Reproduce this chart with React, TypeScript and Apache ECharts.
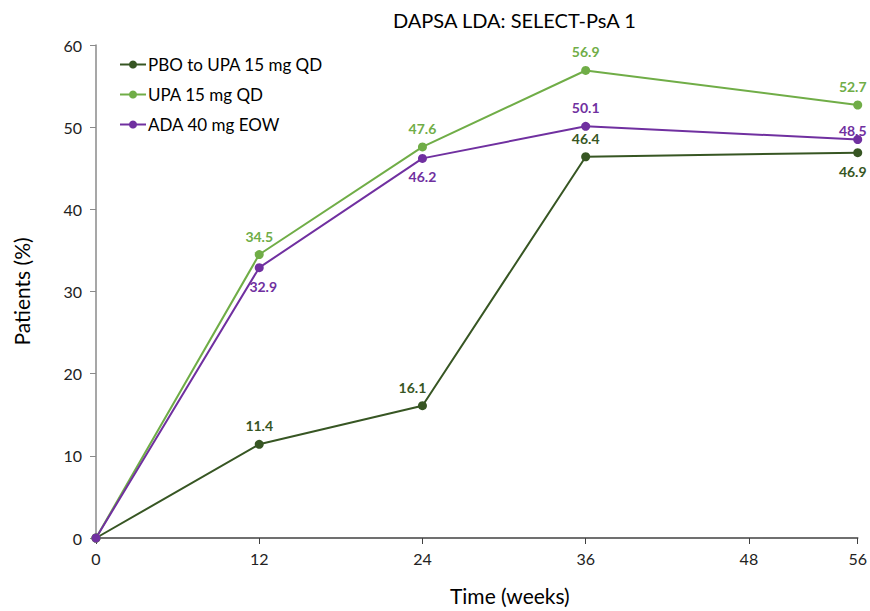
import React, { useEffect, useRef } from "react";
import * as echarts from "echarts";

const titleText = "DAPSA LDA: SELECT-PsA 1";
const weeks = [0, 12, 24, 36, 56];
const seriesNames = ["PBO to UPA 15 mg QD", "UPA 15 mg QD", "ADA 40 mg EOW"];
const pbo = [0, 11.4, 16.1, 46.4, 46.9];
const upa = [0, 34.5, 47.6, 56.9, 52.7];
const ada = [0, 32.9, 46.2, 50.1, 48.5];

const FONT = "Lato, 'Open Sans', sans-serif";
const colors = ["#375623", "#70AD47", "#7030A0"];

// label placement per point (style only)
const pboLabel: any[] = [null, { position: "top" }, { position: "top", offset: [-10, 0] }, { position: "top" }, { position: "bottom", offset: [-5, 0] }];
const upaLabel: any[] = [null, { position: "top" }, { position: "top" }, { position: "top" }, { position: "top", offset: [-5, 0] }];
const adaLabel: any[] = [null, { position: "bottom", offset: [4, 0] }, { position: "bottom" }, { position: "top" }, { position: "top", offset: [-5, 10] }];

function build(values: number[], labels: any[], color: string) {
  return values.map((v, i) => ({
    value: [weeks[i], v],
    label: labels[i]
      ? { show: true, ...labels[i], color, fontWeight: "bold", fontSize: 14, fontFamily: FONT, distance: 7 }
      : { show: false },
  }));
}

export default function App() {
  const ref = useRef<HTMLDivElement>(null);
  useEffect(() => {
    if (!ref.current) return;
    const chart = echarts.init(ref.current, undefined, { renderer: "svg" });
    const mk = (name: string, values: number[], labels: any[], color: string) => ({
      name,
      type: "line",
      data: build(values, labels, color),
      symbol: "circle",
      symbolSize: 9,
      lineStyle: { color, width: 2 },
      itemStyle: { color },
      clip: false,
    });
    chart.setOption({
      animation: false,
      backgroundColor: "#ffffff",
      title: {
        text: titleText,
        left: 388,
        top: 5,
        textStyle: { fontFamily: FONT, fontSize: 20, fontWeight: "normal", color: "#000" },
      },
      legend: {
        orient: "vertical",
        left: 114,
        top: 50,
        itemWidth: 26,
        itemHeight: 10,
        itemGap: 11,
        data: seriesNames,
        textStyle: { fontFamily: FONT, fontSize: 17, color: "#000", lineHeight: 19, padding: [0, 0, 0, -3] },
      },
      grid: { left: 96, right: 12, top: 45, bottom: 72, containLabel: false },
      xAxis: {
        type: "value",
        min: 0,
        max: 56,
        interval: 12,
        name: "Time (weeks)",
        nameLocation: "middle",
        nameGap: 47,
        nameTextStyle: { fontFamily: FONT, fontSize: 21, color: "#000", padding: [0, 0, 0, 66] },
        axisLine: { lineStyle: { color: "#404040", width: 1.5 } },
        axisTick: { show: true, length: 6, lineStyle: { color: "#404040" } },
        axisLabel: { fontFamily: FONT, fontSize: 16, color: "#222", margin: 12, showMaxLabel: true },
        splitLine: { show: false },
      },
      yAxis: {
        type: "value",
        min: 0,
        max: 60,
        interval: 10,
        name: "Patients (%)",
        nameLocation: "middle",
        nameGap: 64,
        nameTextStyle: { fontFamily: FONT, fontSize: 21, color: "#000" },
        axisLine: { show: true, lineStyle: { color: "#8a8a8a", width: 1.5 } },
        axisTick: { show: true, length: 6, lineStyle: { color: "#8a8a8a" } },
        axisLabel: { fontFamily: FONT, fontSize: 16, color: "#222", margin: 14 },
        splitLine: { show: false },
      },
      series: [
        mk(seriesNames[0], pbo, pboLabel, colors[0]),
        mk(seriesNames[1], upa, upaLabel, colors[1]),
        mk(seriesNames[2], ada, adaLabel, colors[2]),
      ],
    });
    return () => chart.dispose();
  }, []);
  return <div ref={ref} style={{ position: "fixed", left: 0, top: 0, width: 870, height: 611 }} />;
}
